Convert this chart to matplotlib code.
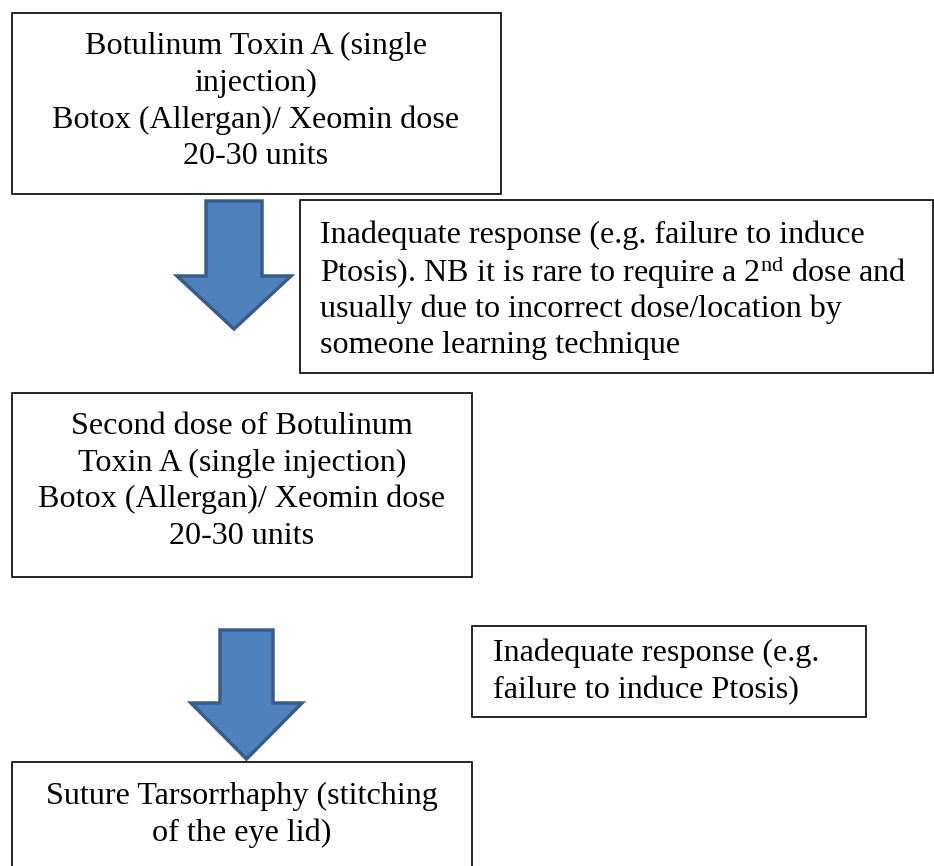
import matplotlib
matplotlib.use('Agg')
import matplotlib.pyplot as plt
from matplotlib.patches import Rectangle, Polygon

plt.rcParams['font.family'] = ['Liberation Serif', 'DejaVu Serif']
plt.rcParams['mathtext.fontset'] = 'custom'
plt.rcParams['mathtext.rm'] = 'Liberation Serif'

# flowchart texts
step1_lines = ['Botulinum Toxin A (single', 'injection)',
               'Botox (Allergan)/ Xeomin dose', '20-30 units']
note1_lines = ['Inadequate response (e.g. failure to induce',
               r'Ptosis). NB it is rare to require a $\mathregular{2^{nd}}$ dose and',
               'usually due to incorrect dose/location by',
               'someone learning technique']
step2_lines = ['Second dose of Botulinum', 'Toxin A (single injection)',
               'Botox (Allergan)/ Xeomin dose', '20-30 units']
note2_lines = ['Inadequate response (e.g.', 'failure to induce Ptosis)']
step3_lines = ['Suture Tarsorrhaphy (stitching', 'of the eye lid)']

W, H = 934, 866
fig = plt.figure(figsize=(W / 100, H / 100), dpi=100)
ax = fig.add_axes([0, 0, 1, 1])
ax.set_xlim(0, W)
ax.set_ylim(H, 0)
ax.axis('off')

fs = 23.1
fill = '#4F81BD'
edge = '#385D8A'


def box(x0, y0, x1, y1):
    ax.add_patch(Rectangle((x0, y0), x1 - x0, y1 - y0, facecolor='white',
                           edgecolor='black', lw=1.2))


def lines(texts, x, ys, ha='center'):
    for t, y in zip(texts, ys):
        ax.text(x, y + 3, t, ha=ha, va='center', fontsize=fs, color='black')


def down_arrow(sx0, sx1, top, hx0, hx1, neck, tip):
    cx = (hx0 + hx1) / 2
    pts = [(sx0, top), (sx1, top), (sx1, neck), (hx1, neck),
           (cx, tip), (hx0, neck), (sx0, neck)]
    ax.add_patch(Polygon(pts, closed=True, facecolor=fill, edgecolor=edge,
                         lw=2.5, joinstyle='miter'))


# step 1
box(12, 13, 501, 194)
lines(step1_lines, 256, [43, 80, 117, 153])

# arrow 1 and note 1
down_arrow(206, 262, 201, 177, 291, 276, 329)
box(300, 200, 933, 373)
lines(note1_lines, 320, [232, 269, 306, 342], ha='left')

# step 2
box(12, 393, 472, 577)
lines(step2_lines, 242, [423, 460, 496, 533])

# arrow 2 and note 2
down_arrow(220, 273, 630, 191, 302, 703, 759)
box(472, 626, 866, 717)
lines(note2_lines, 493, [650, 688], ha='left')

# step 3
box(12, 762, 472, 880)
lines(step3_lines, 242, [793, 830])

fig.savefig('out.png', dpi=100)
